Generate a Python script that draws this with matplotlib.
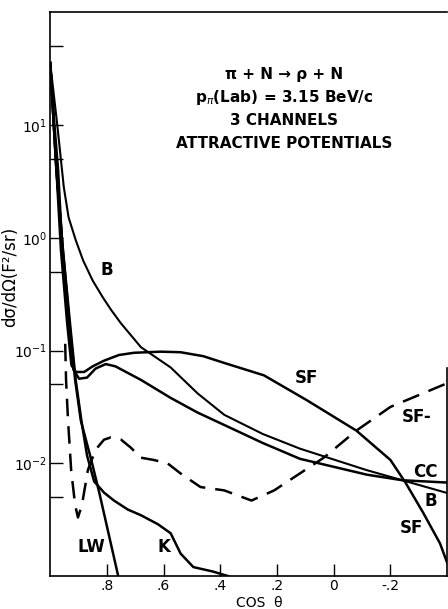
import numpy as np
import matplotlib

matplotlib.use("Agg")
import matplotlib.pyplot as plt
from matplotlib.ticker import FixedLocator, NullFormatter

# curves: cos(theta) and log10(dsigma/dOmega)
b_cos = [1.0, 0.975, 0.962, 0.952, 0.935, 0.91, 0.884, 0.85, 0.814, 0.785, 0.75, 0.68, 0.575, 0.48, 0.386, 0.25, 0.119, -0.116, -0.242, -0.396]
b_log = [1.55, 1.0, 0.69, 0.45, 0.18, -0.02, -0.2, -0.38, -0.53, -0.64, -0.76, -0.97, -1.15, -1.38, -1.57, -1.74, -1.87, -2.06, -2.15, -2.26]

cc_cos = [1.0, 0.985, 0.972, 0.955, 0.935, 0.918, 0.898, 0.87, 0.84, 0.804, 0.77, 0.68, 0.575, 0.48, 0.386, 0.25, 0.119, -0.116, -0.242, -0.396]
cc_log = [1.55, 1.0, 0.6, -0.2, -0.82, -1.17, -1.25, -1.24, -1.16, -1.12, -1.14, -1.26, -1.42, -1.55, -1.66, -1.82, -1.96, -2.10, -2.15, -2.17]

sf_cos = [1.0, 0.982, 0.962, 0.94, 0.925, 0.909, 0.88, 0.85, 0.81, 0.758, 0.705, 0.61, 0.54, 0.46, 0.386, 0.246, 0.095, -0.08, -0.2, -0.253, -0.316, -0.375, -0.4]
sf_log = [1.55, 0.78, -0.11, -0.76, -1.13, -1.19, -1.19, -1.14, -1.09, -1.04, -1.02, -1.01, -1.015, -1.05, -1.11, -1.22, -1.44, -1.71, -1.97, -2.17, -2.44, -2.71, -2.88]

lw_cos = [1.0, 0.978, 0.955, 0.932, 0.912, 0.892, 0.855, 0.825, 0.797, 0.76]
lw_log = [1.55, 0.6, -0.11, -0.76, -1.26, -1.62, -1.97, -2.28, -2.59, -3.0]

k_cos = [1.0, 0.978, 0.955, 0.93, 0.91, 0.89, 0.87, 0.845, 0.81, 0.775, 0.726, 0.68, 0.62, 0.575, 0.54, 0.495, 0.425, 0.386, 0.372]
k_log = [1.55, 0.6, -0.11, -0.76, -1.26, -1.62, -1.93, -2.16, -2.26, -2.33, -2.41, -2.46, -2.54, -2.62, -2.80, -2.92, -2.96, -2.99, -3.0]

sfm_cos = [0.947, 0.944, 0.937, 0.926, 0.912, 0.902, 0.888, 0.867, 0.84, 0.81, 0.786, 0.75, 0.716, 0.68, 0.635, 0.586, 0.54, 0.47, 0.386, 0.29, 0.21, 0.035, -0.08, -0.2, -0.4]
sfm_log = [-0.94, -1.26, -1.62, -2.06, -2.37, -2.48, -2.37, -2.06, -1.88, -1.79, -1.77, -1.79, -1.86, -1.95, -1.97, -2.0, -2.09, -2.21, -2.24, -2.33, -2.24, -1.95, -1.71, -1.50, -1.29]

# curve labels: text, cos(theta), log10 value
label_txt = ["B", "SF", "SF-", "CC", "B", "SF", "LW", "K"]
label_cos = [0.80, 0.095, -0.291, -0.323, -0.344, -0.274, 0.856, 0.60]
label_log = [-0.29, -1.245, -1.59, -2.08, -2.33, -2.57, -2.74, -2.74]

x_ticks = [0.8, 0.6, 0.4, 0.2, 0.0, -0.2]
x_ticklabels = [".8", ".6", ".4", ".2", "0", "-.2"]
y_major = [1e-2, 1e-1, 1e0, 1e1]
y_ticklabels = ["$10^{-2}$", "$10^{-1}$", "$10^{0}$", "$10^{1}$"]
y_minor = [5e-3, 5e-2, 5e-1, 5e0, 5e1]

title_lines = ["π + N → ρ + N", "p$_\\pi$(Lab) = 3.15 BeV/c", "3 CHANNELS", "ATTRACTIVE POTENTIALS"]

fig = plt.figure(figsize=(4.48, 6.09), dpi=100)
ax = fig.add_axes([0.112, 0.054, 0.886, 0.926])

LW = 1.8
ax.plot(b_cos, 10 ** np.array(b_log), color="black", lw=1.5)
ax.plot(cc_cos, 10 ** np.array(cc_log), color="black", lw=LW)
ax.plot(sf_cos, 10 ** np.array(sf_log), color="black", lw=LW)
ax.plot(lw_cos, 10 ** np.array(lw_log), color="black", lw=LW)
ax.plot(k_cos, 10 ** np.array(k_log), color="black", lw=LW)
ax.plot(sfm_cos, 10 ** np.array(sfm_log), color="black", lw=LW, dashes=(7, 4))

ax.set_yscale("log")
ax.set_xlim(1.0, -0.4)
ax.set_ylim(1e-3, 1e2)

ax.xaxis.set_major_locator(FixedLocator(x_ticks))
ax.set_xticklabels(x_ticklabels)
ax.yaxis.set_major_locator(FixedLocator(y_major))
ax.set_yticklabels(y_ticklabels)
ax.yaxis.set_minor_locator(FixedLocator(y_minor))
ax.yaxis.set_minor_formatter(NullFormatter())
ax.xaxis.set_minor_locator(FixedLocator([]))

ax.tick_params(axis="both", which="both", direction="in", length=9, width=1.0,
               labelsize=10, pad=2)
ax.tick_params(axis="y", which="major", pad=2)
ax.tick_params(right=False, top=False)
ax.spines["right"].set_bounds(1e-3, 0.07)
for s in ax.spines.values():
    s.set_linewidth(1.2)

ax.set_xlabel("COS  θ", fontsize=10, labelpad=0)
ax.xaxis.set_label_coords(0.526, -0.036)
ax.set_ylabel("dσ/dΩ(F²/sr)", fontsize=12, labelpad=2)
ax.yaxis.set_label_coords(-0.078, 0.53)

for i, line in enumerate(title_lines):
    ax.text(0.59, 0.889 - i * 0.0405, line, transform=ax.transAxes, ha="center",
            va="center", fontsize=11, fontweight="bold")

for txt, xv, lv in zip(label_txt, label_cos, label_log):
    ax.text(xv, 10 ** lv, txt, ha="center", va="center", fontsize=12, fontweight="bold")

fig.savefig("out.png", dpi=100)
